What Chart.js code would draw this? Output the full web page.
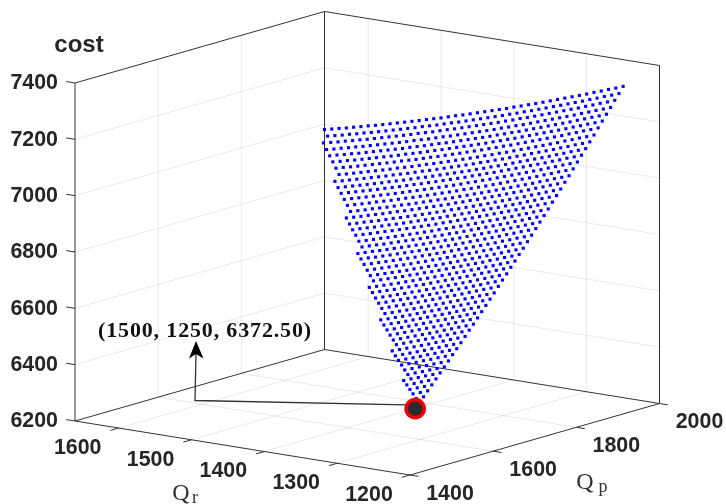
<!DOCTYPE html>
<html>
<head>
<meta charset="utf-8">
<style>html,body{margin:0;padding:0;background:#fff}canvas{display:block}</style>
<script src="https://cdn.jsdelivr.net/npm/chart.js@4"></script>
</head>
<body>
<canvas id="c" width="726" height="504"></canvas>
<script>
// Axis ticks and limits
const qpTicks = [1400, 1600, 1800, 2000];
const qrTicks = [1600, 1500, 1400, 1300, 1200];
const costTicks = [6200, 6400, 6600, 6800, 7000, 7200, 7400];
const qpLimits = [1400, 2000];
const qrLimits = [1200, 1660];
const costLimits = [6200, 7400];

// Highlighted optimum
const bestPoint = [1500, 1250, 6372.5];
const bestLabel = "(1500, 1250, 6372.50)";

// Rows are Qp, each row starts at qrValues[0]
const qrValues = [1250,1260,1270,1280,1290,1300,1310,1320,1330,1340,1350,1360,1370,1380,1390,1400,1410,1420,1430,1440,1450,1460,1470,1480,1490,1500,1510,1520,1530,1540,1550,1560,1570,1580,1590,1600,1610,1620,1630,1640,1650,1660];
const qpValues = [2000,1990,1980,1970,1960,1950,1940,1930,1920,1910,1900,1890,1880,1870,1860,1850,1840,1830,1820,1810,1800,1790,1780,1770,1760,1750,1740,1730,1720,1710,1700,1690,1680,1670,1660,1650,1640,1630,1620,1610,1600,1590,1580,1570,1560,1550,1540,1530,1520,1510,1500];
const costRows = [
[7305,7295,7286,7276,7267,7257,7248,7239,7230,7221,7212,7203,7194,7186,7177,7169,7160,7152,7144,7136,7128,7120,7112,7105,7097,7089,7082,7075,7067,7060,7053,7046,7039,7032,7025,7019,7012,7006,6999,6993,6987,6981],
[7284,7274,7265,7255,7246,7236,7227,7218,7209,7200,7191,7182,7173,7165,7156,7148,7139,7131,7123,7115,7107,7099,7091,7084,7076,7068,7061,7054,7046,7039,7032,7025,7018,7011,7004,6998,6991,6985,6978,6972,6966],
[7264,7254,7245,7235,7226,7216,7207,7198,7189,7180,7171,7162,7153,7145,7136,7128,7119,7111,7103,7095,7087,7079,7071,7064,7056,7048,7041,7034,7026,7019,7012,7005,6998,6991,6984,6978,6971,6965,6958,6952,6946],
[7243,7233,7224,7214,7205,7195,7186,7177,7168,7159,7150,7141,7132,7124,7115,7107,7098,7090,7082,7074,7066,7058,7050,7043,7035,7027,7020,7013,7005,6998,6991,6984,6977,6970,6963,6957,6950,6944,6937,6931],
[7223,7213,7204,7194,7185,7175,7166,7157,7148,7139,7130,7121,7112,7104,7095,7087,7078,7070,7062,7054,7046,7038,7030,7023,7015,7007,7000,6993,6985,6978,6971,6964,6957,6950,6943,6937,6930,6924,6917],
[7203,7193,7184,7174,7165,7155,7146,7137,7128,7119,7110,7101,7092,7084,7075,7067,7058,7050,7042,7034,7026,7018,7010,7003,6995,6987,6980,6973,6965,6958,6951,6944,6937,6930,6923,6917,6910,6904],
[7183,7173,7164,7154,7145,7135,7126,7117,7108,7099,7090,7081,7072,7064,7055,7047,7038,7030,7022,7014,7006,6998,6990,6983,6975,6967,6960,6953,6945,6938,6931,6924,6917,6910,6903,6897,6890],
[7162,7152,7143,7133,7124,7114,7105,7096,7087,7078,7069,7060,7051,7043,7034,7026,7017,7009,7001,6993,6985,6977,6969,6962,6954,6946,6939,6932,6924,6917,6910,6903,6896,6889,6882,6876],
[7142,7132,7123,7113,7104,7094,7085,7076,7067,7058,7049,7040,7031,7023,7014,7006,6997,6989,6981,6973,6965,6957,6949,6942,6934,6926,6919,6912,6904,6897,6890,6883,6876,6869,6862,6856],
[7122,7112,7103,7093,7084,7074,7065,7056,7047,7038,7029,7020,7011,7003,6994,6986,6977,6969,6961,6953,6945,6937,6929,6922,6914,6906,6899,6892,6884,6877,6870,6863,6856,6849,6842],
[7103,7093,7084,7074,7065,7055,7046,7037,7028,7019,7010,7001,6992,6984,6975,6967,6958,6950,6942,6934,6926,6918,6910,6903,6895,6887,6880,6873,6865,6858,6851,6844,6837,6830],
[7083,7073,7064,7054,7045,7035,7026,7017,7008,6999,6990,6981,6972,6964,6955,6947,6938,6930,6922,6914,6906,6898,6890,6883,6875,6867,6860,6853,6845,6838,6831,6824,6817],
[7063,7053,7044,7034,7025,7015,7006,6997,6988,6979,6970,6961,6952,6944,6935,6927,6918,6910,6902,6894,6886,6878,6870,6863,6855,6847,6840,6833,6825,6818,6811,6804],
[7043,7033,7024,7014,7005,6995,6986,6977,6968,6959,6950,6941,6932,6924,6915,6907,6898,6890,6882,6874,6866,6858,6850,6843,6835,6827,6820,6813,6805,6798,6791],
[7024,7014,7005,6995,6986,6976,6967,6958,6949,6940,6931,6922,6913,6905,6896,6888,6879,6871,6863,6855,6847,6839,6831,6824,6816,6808,6801,6794,6786,6779,6772],
[7004,6994,6985,6975,6966,6956,6947,6938,6929,6920,6911,6902,6893,6885,6876,6868,6859,6851,6843,6835,6827,6819,6811,6804,6796,6788,6781,6774,6766,6759],
[6985,6975,6966,6956,6947,6937,6928,6919,6910,6901,6892,6883,6874,6866,6857,6849,6840,6832,6824,6816,6808,6800,6792,6785,6777,6769,6762,6755,6747],
[6966,6956,6947,6937,6928,6918,6909,6900,6891,6882,6873,6864,6855,6847,6838,6830,6821,6813,6805,6797,6789,6781,6773,6766,6758,6750,6743,6736],
[6946,6936,6927,6917,6908,6898,6889,6880,6871,6862,6853,6844,6835,6827,6818,6810,6801,6793,6785,6777,6769,6761,6753,6746,6738,6730,6723],
[6927,6917,6908,6898,6889,6879,6870,6861,6852,6843,6834,6825,6816,6808,6799,6791,6782,6774,6766,6758,6750,6742,6734,6727,6719,6711],
[6908,6898,6889,6879,6870,6860,6851,6842,6833,6824,6815,6806,6797,6789,6780,6772,6763,6755,6747,6739,6731,6723,6715,6708,6700,6692],
[6889,6879,6870,6860,6851,6841,6832,6823,6814,6805,6796,6787,6778,6770,6761,6753,6744,6736,6728,6720,6712,6704,6696,6689,6681],
[6870,6860,6851,6841,6832,6822,6813,6804,6795,6786,6777,6768,6759,6751,6742,6734,6725,6717,6709,6701,6693,6685,6677,6670],
[6851,6841,6832,6822,6813,6803,6794,6785,6776,6767,6758,6749,6740,6732,6723,6715,6706,6698,6690,6682,6674,6666,6658],
[6832,6822,6813,6803,6794,6784,6775,6766,6757,6748,6739,6730,6721,6713,6704,6696,6687,6679,6671,6663,6655,6647],
[6814,6804,6795,6785,6776,6766,6757,6748,6739,6730,6721,6712,6703,6695,6686,6678,6669,6661,6653,6645,6637],
[6795,6785,6776,6766,6757,6747,6738,6729,6720,6711,6702,6693,6684,6676,6667,6659,6650,6642,6634,6626,6618],
[6777,6767,6758,6748,6739,6729,6720,6711,6702,6693,6684,6675,6666,6658,6649,6641,6632,6624,6616,6608],
[6758,6748,6739,6729,6720,6710,6701,6692,6683,6674,6665,6656,6647,6639,6630,6622,6613,6605,6597],
[6740,6730,6721,6711,6702,6692,6683,6674,6665,6656,6647,6638,6629,6621,6612,6604,6595,6587],
[6722,6712,6703,6693,6684,6674,6665,6656,6647,6638,6629,6620,6611,6603,6594,6586,6577],
[6703,6693,6684,6674,6665,6655,6646,6637,6628,6619,6610,6601,6592,6584,6575,6567],
[6685,6675,6666,6656,6647,6637,6628,6619,6610,6601,6592,6583,6574,6566,6557,6549],
[6667,6657,6648,6638,6629,6619,6610,6601,6592,6583,6574,6565,6556,6548,6539],
[6649,6639,6630,6620,6611,6601,6592,6583,6574,6565,6556,6547,6538,6530],
[6631,6621,6612,6602,6593,6583,6574,6565,6556,6547,6538,6529,6520],
[6613,6603,6594,6584,6575,6565,6556,6547,6538,6529,6520,6511],
[6596,6586,6577,6567,6558,6548,6539,6530,6521,6512,6503],
[6578,6568,6559,6549,6540,6530,6521,6512,6503,6494,6485],
[6560,6550,6541,6531,6522,6512,6503,6494,6485,6476],
[6543,6533,6524,6514,6505,6495,6486,6477,6468],
[6526,6516,6507,6497,6488,6478,6469,6460],
[6508,6498,6489,6479,6470,6460,6451],
[6491,6481,6472,6462,6453,6443],
[6474,6464,6455,6445,6436,6426],
[6457,6447,6438,6428,6419],
[6440,6430,6421,6411],
[6423,6413,6404],
[6406,6396],
[6389],
[6372.5]
];

// Orthographic view of the 3-D box onto the page scales
const view = {x0:75, y0:421, xQp:249.5/600, yQp:-71.5/600, xQr:335/460, yQr:54/460, yZ:-338/1200};
function project(qp, qr, cost){
  const a = qp - qpLimits[0], b = qrLimits[1] - qr, c = cost - costLimits[0];
  return {x: view.x0 + a*view.xQp + b*view.xQr, y: view.y0 + a*view.yQp + b*view.yQr + c*view.yZ};
}
function segments(list){
  const out = [];
  list.forEach(([p, q]) => { out.push(project(...p), project(...q), {x:NaN, y:NaN}); });
  return out;
}
const [pMin, pMax] = qpLimits, [rMin, rMax] = qrLimits, [zMin, zMax] = costLimits;

const gridSegs = [];
costTicks.slice(1, -1).forEach(z => {
  gridSegs.push([[pMin, rMax, z], [pMax, rMax, z]], [[pMax, rMax, z], [pMax, rMin, z]]);
});
qpTicks.slice(1, -1).forEach(p => {
  gridSegs.push([[p, rMax, zMin], [p, rMax, zMax]], [[p, rMax, zMin], [p, rMin, zMin]]);
});
qrTicks.slice(0, -1).forEach(r => {
  gridSegs.push([[pMax, r, zMin], [pMax, r, zMax]], [[pMin, r, zMin], [pMax, r, zMin]]);
});

const boxSegs = [
  [[pMin, rMax, zMin], [pMin, rMin, zMin]], [[pMin, rMin, zMin], [pMax, rMin, zMin]],
  [[pMax, rMin, zMin], [pMax, rMax, zMin]], [[pMax, rMax, zMin], [pMin, rMax, zMin]],
  [[pMin, rMax, zMax], [pMax, rMax, zMax]], [[pMax, rMax, zMax], [pMax, rMin, zMax]],
  [[pMin, rMax, zMin], [pMin, rMax, zMax]], [[pMax, rMax, zMin], [pMax, rMax, zMax]],
  [[pMax, rMin, zMin], [pMax, rMin, zMax]]
];
const tickSegs = [];
costTicks.forEach(z => tickSegs.push([[pMin, rMax, z], [pMin, rMax + 12, z]]));
qrTicks.forEach(r => tickSegs.push([[pMin, r, zMin], [pMin - 20, r, zMin]]));
qpTicks.forEach(p => tickSegs.push([[p, rMin, zMin], [p, rMin - 11.5, zMin]]));

const surface = [];
costRows.forEach((row, i) => row.forEach((cost, j) => surface.push(project(qpValues[i], qrValues[j], cost))));

// Callout drawn on the page scales
const calloutPath = [{x:406,y:404.9},{x:195,y:400.5},{x:196,y:354}];
const calloutHead = [[196,341],[189,358.5],[196,354],[203.5,358.5]];

const textPlugin = {
  id: 'text3d',
  afterDatasetsDraw(chart){
    const {ctx, scales:{x:sx, y:sy}} = chart;
    const put = (t, x, y, align) => {
      ctx.textAlign = align || 'center';
      ctx.fillText(t, sx.getPixelForValue(x), sy.getPixelForValue(y));
    };
    ctx.save();
    ctx.textBaseline = 'middle';
    ctx.fillStyle = '#262626';
    ctx.font = 'bold 21.4px "Liberation Sans"';
    costTicks.forEach(z => { const p = project(pMin, rMax, z); put(String(z), p.x - 17, p.y + 0.5, 'right'); });
    qrTicks.forEach(r => { const p = project(pMin, r, zMin); put(String(r), p.x - 41, p.y + 20); });
    qpTicks.forEach(q => { const p = project(q, rMin, zMin); put(String(q), p.x + 40, p.y + 19); });
    ctx.font = 'bold 24px "Liberation Sans"';
    put('cost', 79, 45.5);

    ctx.fillStyle = '#333';
    ctx.font = '24px "Liberation Serif"';
    put('Q', 181, 494); put('Q', 585, 483);
    ctx.font = '18px "Liberation Serif"';
    put('r', 195, 498); put('p', 603, 487);

    ctx.fillStyle = '#111';
    ctx.font = 'bold 22px "Liberation Serif"';
    ctx.letterSpacing = '0.85px';
    put(bestLabel, 205, 331);
    ctx.letterSpacing = '0px';

    ctx.beginPath();
    calloutHead.forEach(([x, y], i) => {
      const px = sx.getPixelForValue(x), py = sy.getPixelForValue(y);
      i ? ctx.lineTo(px, py) : ctx.moveTo(px, py);
    });
    ctx.closePath();
    ctx.fillStyle = '#000';
    ctx.fill();
    ctx.restore();
  }
};

const line = (data, color, width, order) => ({
  type:'scatter', data, showLine:true, spanGaps:false, pointRadius:0, pointHoverRadius:0,
  borderColor:color, borderWidth:width, order, tension:0
});

new Chart(document.getElementById('c'), {
  type:'scatter',
  data:{datasets:[
    {data:[project(...bestPoint)], pointStyle:'circle', pointRadius:9, borderWidth:3.6,
     pointBorderColor:'#f00000', pointBackgroundColor:'#2b2b2b', order:0},
    line(calloutPath, '#333', 1.3, 1),
    {data:surface, pointStyle:'rect', pointRadius:2.2, pointBorderWidth:0, borderWidth:0,
     pointBackgroundColor:'#0000ff', pointBorderColor:'#0000ff', order:2},
    line(segments(tickSegs), '#333', 1, 3),
    line(segments(boxSegs), '#333', 1, 4),
    line(segments(gridSegs), 'rgba(38,38,38,0.10)', 1, 5)
  ]},
  options:{
    responsive:false, animation:false, events:[],
    layout:{padding:0, autoPadding:false},
    plugins:{legend:{display:false}, tooltip:{enabled:false}},
    scales:{
      x:{type:'linear', min:0, max:726, display:false},
      y:{type:'linear', min:0, max:504, reverse:true, display:false}
    }
  },
  plugins:[textPlugin]
});
</script>
</body>
</html>
